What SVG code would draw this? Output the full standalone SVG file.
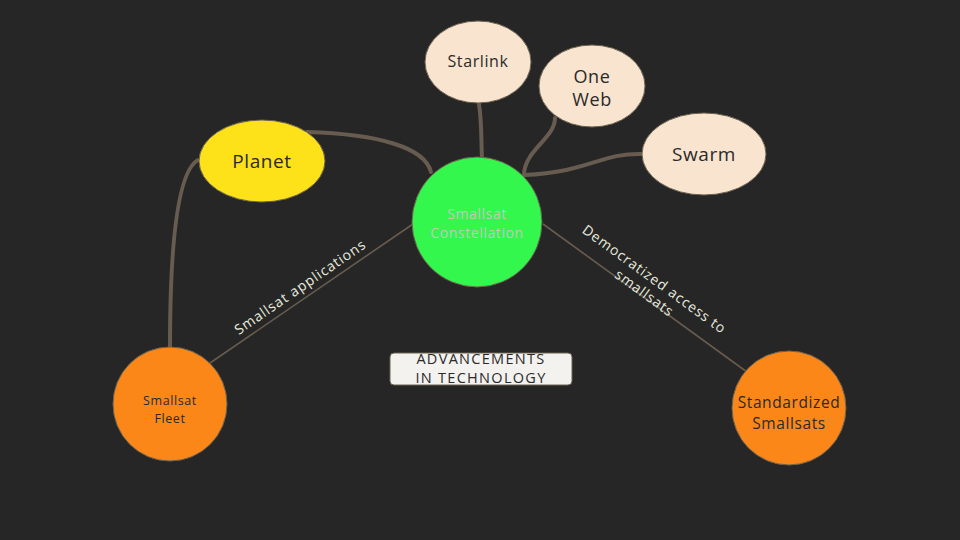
<svg xmlns="http://www.w3.org/2000/svg" width="960" height="540" viewBox="0 0 960 540">
<style>
.thick{fill:none;stroke:#675c4f;stroke-width:4;stroke-linecap:round}
.thin{fill:none;stroke:#675c4f;stroke-width:1.6}
.node{stroke:#6b6250;stroke-width:1}
.t{font-family:"Open Sans","Liberation Sans",sans-serif;text-anchor:middle;fill:#2a2a2a;letter-spacing:0.6px}
.lbl{font-family:"Open Sans","Liberation Sans",sans-serif;text-anchor:middle;fill:#e8ecdf;font-size:14px;letter-spacing:0.9px}
</style>
<rect width="960" height="540" fill="#262626"/>
<g id="connectors">
<path class="thick" d="M479,104 C482,125 481,140 482,158"/>
<path class="thick" d="M555,118 C555,138 525,150 524,174"/>
<path class="thick" d="M642,154 C600,153 590,172 524,175"/>
<path class="thick" d="M307,132 C380,134 425,148 431,172"/>
<path class="thick" d="M198,160 C180,170 170,230 170,347"/>
<path class="thin" d="M210,363 L413,224"/>
<path class="thin" d="M543,224 L747,372"/>
<text class="lbl" transform="translate(303,291) rotate(-34.5)">Smallsat applications</text>
<g transform="translate(648,288) rotate(36)">
<text class="lbl" x="0" y="-6">Democratized access to</text>
<text class="lbl" x="0" y="11">smallsats</text>
</g>
</g>
<g id="constellation">
<circle class="node" cx="477" cy="222" r="65" fill="#33f74d"/>
<text class="t" x="477" y="219" font-size="14" style="fill:#c4c8bf">Smallsat</text>
<text class="t" x="477" y="238" font-size="14" style="fill:#c4c8bf">Constellation</text>
</g>
<g id="starlink">
<ellipse class="node" cx="478" cy="62" rx="53" ry="41" fill="#f9e4cf"/>
<text class="t" x="478" y="67" font-size="16">Starlink</text>
</g>
<g id="oneweb">
<ellipse class="node" cx="592" cy="86" rx="53" ry="41" fill="#f9e4cf"/>
<text class="t" x="592" y="83" font-size="18">One</text>
<text class="t" x="592" y="106" font-size="18">Web</text>
</g>
<g id="swarm">
<ellipse class="node" cx="704" cy="154" rx="62" ry="41" fill="#f9e4cf"/>
<text class="t" x="704" y="161" font-size="19">Swarm</text>
</g>
<g id="planet">
<ellipse class="node" cx="262" cy="161" rx="63" ry="41" fill="#fde119"/>
<text class="t" x="262" y="168" font-size="19">Planet</text>
</g>
<g id="fleet">
<circle class="node" cx="170" cy="404" r="57" fill="#fb8719"/>
<text class="t" x="170" y="405" font-size="12.5">Smallsat</text>
<text class="t" x="170" y="423" font-size="12.5">Fleet</text>
</g>
<g id="standardized">
<circle class="node" cx="789" cy="408" r="57" fill="#fb8719"/>
<text class="t" x="789" y="408" font-size="15.5">Standardized</text>
<text class="t" x="789" y="429" font-size="15.5">Smallsats</text>
</g>
<g id="advancements">
<rect x="390" y="353" width="182" height="32" rx="4" fill="#f3f2ef" stroke="#6b6250" stroke-width="1"/>
<text class="t" x="481" y="364" font-size="14.5" style="letter-spacing:1.3px">ADVANCEMENTS</text>
<text class="t" x="481" y="383" font-size="14.5" style="letter-spacing:1.3px">IN TECHNOLOGY</text>
</g>
</svg>
